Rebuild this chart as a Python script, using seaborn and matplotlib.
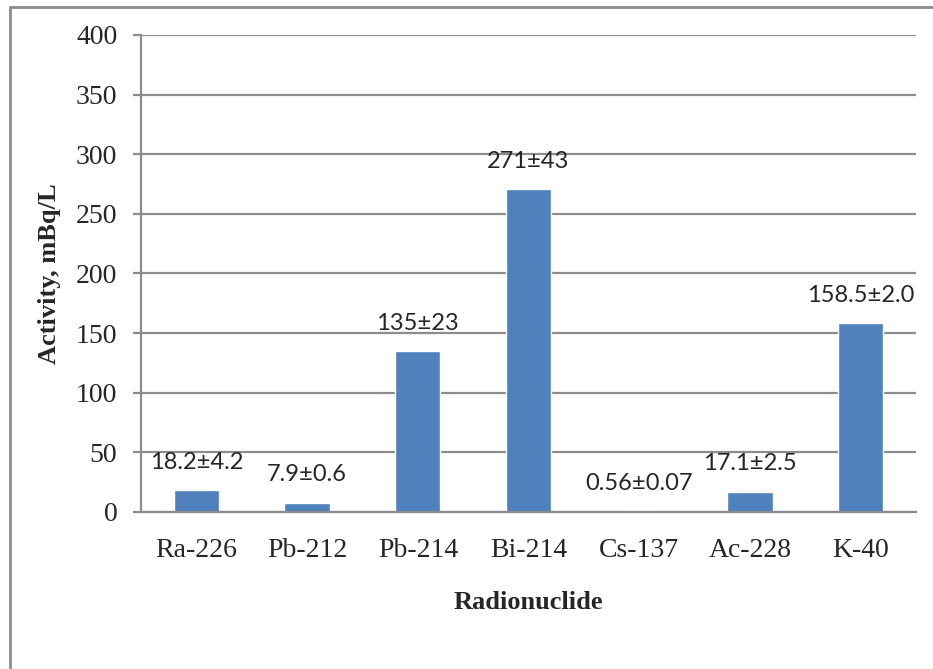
import matplotlib
matplotlib.use('Agg')
import matplotlib.pyplot as plt
import pandas as pd
import seaborn as sns
from matplotlib.lines import Line2D

# values
NUCLIDES = ['Ra-226', 'Pb-212', 'Pb-214', 'Bi-214', 'Cs-137', 'Ac-228', 'K-40']
ACTIVITY = [18.2, 7.9, 135, 271, 0.56, 17.1, 158.5]
LABELS = ['18.2±4.2', '7.9±0.6', '135±23', '271±43', '0.56±0.07',
          '17.1±2.5', '158.5±2.0']
Y_TICKS = [0, 50, 100, 150, 200, 250, 300, 350, 400]

GRID_GRAY = '#8c8c8c'
BAR_BLUE = '#4f81bd'

sns.set_style('white')
plt.rcParams['font.family'] = ['Liberation Serif', 'DejaVu Serif']

df = pd.DataFrame({'nuclide': NUCLIDES, 'activity': ACTIVITY})

fig = plt.figure(figsize=(9.33, 6.69), dpi=100)
ax = fig.add_axes([0.1511, 0.2347, 0.8307, 0.7130])
sns.barplot(x='nuclide', y='activity', data=df, color=BAR_BLUE,
            saturation=1, width=0.41, ax=ax)

ax.set_ylim(0, 400)
ax.set_yticks(Y_TICKS)
ax.yaxis.grid(True, color=GRID_GRAY, linewidth=1.6)
ax.set_axisbelow(True)
ax.set_xlim(-0.5, len(NUCLIDES) - 0.5)

for side in ['top', 'right']:
    ax.spines[side].set_visible(False)
for side in ['left', 'bottom']:
    ax.spines[side].set_color(GRID_GRAY)
    ax.spines[side].set_linewidth(1.6)

ax.tick_params(axis='y', length=6, width=1.6, color=GRID_GRAY,
               labelsize=20, pad=11, direction='out', left=True)
ax.tick_params(axis='x', length=0, labelsize=20, pad=19)

ax.set_xlabel('Radionuclide', fontsize=19, fontweight='bold', labelpad=20)
ax.set_ylabel('Activity, mBq/L', fontsize=19, fontweight='bold', labelpad=11)

# value labels above each bar
for i, (val, lab) in enumerate(zip(ACTIVITY, LABELS)):
    ax.annotate(lab, (i, val), xytext=(0, 20), textcoords='offset points',
                ha='center', va='center', fontsize=17,
                family=['Lato', 'DejaVu Sans'])

# outer frame of the chart area (top and left edges only)
fig.add_artist(Line2D([0.0107, 1.0], [0.9895, 0.9895], color=GRID_GRAY,
                      linewidth=2, transform=fig.transFigure))
fig.add_artist(Line2D([0.0107, 0.0107], [0.0, 0.9895], color=GRID_GRAY,
                      linewidth=2, transform=fig.transFigure))

fig.savefig('out.png', dpi=100, facecolor='white')
